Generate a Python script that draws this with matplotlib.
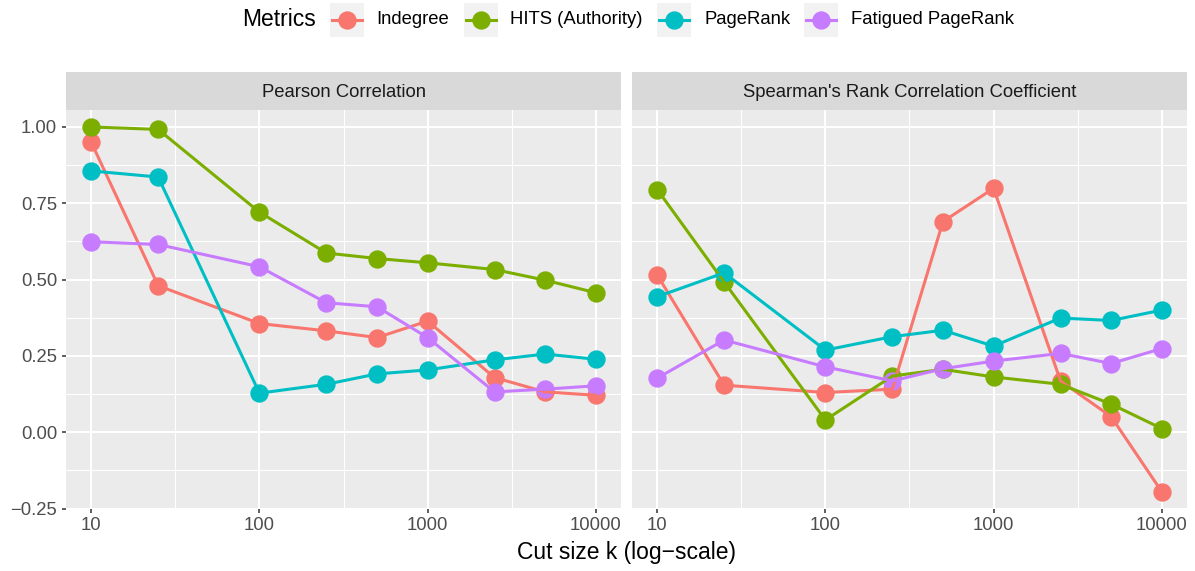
import matplotlib
matplotlib.use('Agg')
import matplotlib.pyplot as plt
from matplotlib.lines import Line2D
from matplotlib.patches import Rectangle

plt.rcParams['font.family'] = ['Liberation Sans', 'DejaVu Sans']

k = [10, 25, 100, 250, 500, 1000, 2500, 5000, 10000]
metrics = ['Indegree', 'HITS (Authority)', 'PageRank', 'Fatigued PageRank']
colors = ['#F8766D', '#7CAE00', '#00BFC4', '#C77CFF']
panels = ['Pearson Correlation', "Spearman's Rank Correlation Coefficient"]

pearson_indegree = [0.95, 0.48, 0.356, 0.332, 0.31, 0.364, 0.179, 0.132, 0.121]
pearson_hits = [1.00, 0.992, 0.721, 0.587, 0.569, 0.555, 0.533, 0.498, 0.457]
pearson_pagerank = [0.856, 0.836, 0.128, 0.157, 0.191, 0.204, 0.237, 0.256, 0.239]
pearson_fatigued = [0.624, 0.615, 0.542, 0.424, 0.411, 0.310, 0.132, 0.141, 0.152]

spearman_indegree = [0.515, 0.154, 0.130, 0.141, 0.690, 0.799, 0.168, 0.051, -0.195]
spearman_hits = [0.795, 0.492, 0.040, 0.184, 0.206, 0.181, 0.157, 0.092, 0.012]
spearman_pagerank = [0.444, 0.522, 0.269, 0.313, 0.334, 0.282, 0.374, 0.366, 0.400]
spearman_fatigued = [0.177, 0.302, 0.214, 0.168, 0.208, 0.233, 0.258, 0.225, 0.274]

data = [
    [pearson_indegree, pearson_hits, pearson_pagerank, pearson_fatigued],
    [spearman_indegree, spearman_hits, spearman_pagerank, spearman_fatigued],
]

W, H = 1195, 571
fig = plt.figure(figsize=(W / 100, H / 100), dpi=100)


def fx(px):
    return px / W


def fy(py):
    return 1 - py / H


small = 13.3
large = 16.5
panel_top, panel_bot = 110, 508.5
strip_top = 72
lefts = [66, 632]
pw = 555

axes = []
for i, title in enumerate(panels):
    ax = fig.add_axes([fx(lefts[i]), fy(panel_bot), pw / W, (panel_bot - panel_top) / H])
    ax.set_facecolor('#EBEBEB')
    for s in ax.spines.values():
        s.set_visible(False)
    ax.set_xscale('log')
    ax.set_xlim(10 ** 0.85, 10 ** 4.15)
    ax.set_ylim(-0.2495, 1.0556)
    ax.set_xticks([10, 100, 1000, 10000])
    ax.set_xticklabels(['10', '100', '1000', '10000'])
    ax.set_xticks([10 ** 1.5, 10 ** 2.5, 10 ** 3.5], minor=True)
    ax.set_yticks([1.0, 0.75, 0.5, 0.25, 0.0, -0.25])
    ax.set_yticks([0.875, 0.625, 0.375, 0.125, -0.125], minor=True)
    ax.set_yticklabels(['1.00', '0.75', '0.50', '0.25', '0.00', '\u22120.25'])
    ax.grid(which='major', color='white', linewidth=1.5)
    ax.grid(which='minor', color='white', linewidth=0.75)
    ax.set_axisbelow(True)
    ax.tick_params(which='major', length=3.2, width=1.1, color='#333333',
                   labelcolor='#4D4D4D', labelsize=small, pad=3.2)
    ax.tick_params(which='minor', length=0)
    if i == 1:
        ax.tick_params(axis='y', which='major', length=0, labelleft=False)

    # points first, lines on top (as in the original layering)
    for j, name in enumerate(metrics):
        ax.plot(k, data[i][j], color=colors[j], linewidth=2.2, zorder=3)
    for j, name in enumerate(metrics):
        ax.plot(k, data[i][j], linestyle='none', marker='o', markersize=12.2,
                color=colors[j], zorder=2.5)

    sax = fig.add_axes([fx(lefts[i]), fy(panel_top), pw / W, (panel_top - strip_top) / H])
    sax.set_facecolor('#D9D9D9')
    for s in sax.spines.values():
        s.set_visible(False)
    sax.set_xticks([])
    sax.set_yticks([])
    sax.text(0.5, 0.47, title, ha='center', va='center', fontsize=small,
             color='#1A1A1A', transform=sax.transAxes)
    axes.append(ax)

fig.text(fx(626.5), fy(553), 'Cut size k (log\u2212scale)', ha='center', va='center',
         fontsize=large, color='black')

# legend across the top
renderer = fig.canvas.get_renderer()
ly = 20
x = 242
t = fig.text(fx(x), fy(ly), 'Metrics', ha='left', va='center', fontsize=large)
x = t.get_window_extent(renderer).x1 + 14
for j, name in enumerate(metrics):
    fig.patches.append(Rectangle((fx(x), fy(37)), 34 / W, 34 / H, transform=fig.transFigure,
                                 facecolor='#F2F2F2', edgecolor='none'))
    fig.lines.append(Line2D([fx(x + 2), fx(x + 32)], [fy(ly), fy(ly)], transform=fig.transFigure,
                            color=colors[j], linewidth=2.2))
    fig.lines.append(Line2D([fx(x + 17)], [fy(ly)], transform=fig.transFigure, marker='o',
                            markersize=12.2, color=colors[j], linestyle='none'))
    t = fig.text(fx(x + 47), fy(ly), name, ha='left', va='center', fontsize=small)
    x = t.get_window_extent(renderer).x1 + 14

fig.savefig('out.png', dpi=100)
